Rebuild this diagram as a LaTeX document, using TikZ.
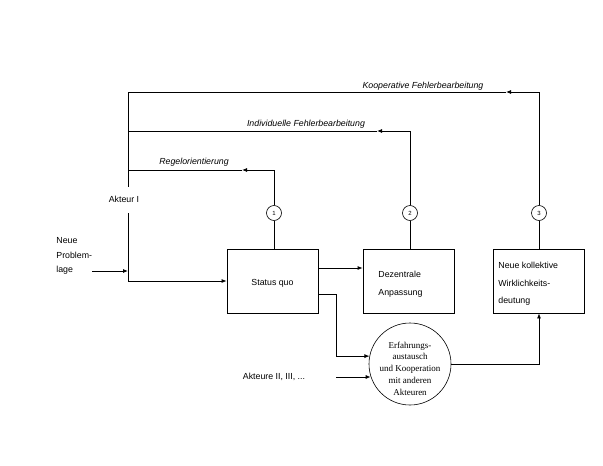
\documentclass[tikz,border=0pt]{standalone}
\usepackage{fontspec}
\setmainfont{Liberation Sans}
\newfontfamily\serifcirc{Liberation Serif}
\usetikzlibrary{arrows.meta,calc}
\begin{document}
\begin{tikzpicture}[x=1pt,y=-1pt,
  line width=0.8pt,
  arr/.style={-{Latex[length=5pt,width=4pt]}},
  box/.style={draw,rectangle,inner sep=0pt,minimum width=91pt,minimum height=64pt},
  numc/.style={draw,circle,line width=0.6pt,inner sep=0pt,minimum size=15pt,font=\fontsize{6}{7}\selectfont},
  lbl/.style={inner sep=0pt,font=\fontsize{8.8}{10}\selectfont},
  ital/.style={inner sep=0pt,font=\fontsize{8.8}{10}\selectfont\itshape}
]
\useasboundingbox (0,0) rectangle (603,466);

% boxes
\node[box] (sq) at (272.5,281) {};
\node[lbl] (sqt) at (272.5,283) {Status quo};
\node[box] (da) at (408.5,281) {};
\node[lbl,anchor=west,align=left,font=\fontsize{8.8}{18}\selectfont] (dat) at (378,284) {Dezentrale\\Anpassung};
\node[box] (nk) at (539,281) {};
\node[lbl,anchor=west,align=left,font=\fontsize{8.8}{17.5}\selectfont] (nkt) at (498,284) {Neue kollektive\\Wirklichkeits-\\deutung};

% exchange circle
\node[draw,circle,line width=0.6pt,minimum size=82pt,inner sep=0pt] (er) at (410,364) {};
\node[inner sep=0pt,align=center,font=\serifcirc\fontsize{9}{11.7}\selectfont] (ert) at (410,368.5) {Erfahrungs-\\austausch\\und Kooperation\\mit anderen\\Akteuren};

% numbered circles
\node[numc] (c1) at (274,213) {1};
\node[numc] (c2) at (410,213) {2};
\node[numc] (c3) at (539,213) {3};

% labels
\node[ital] (lk) at (423,86) {Kooperative Fehlerbearbeitung};
\node[ital] (li) at (306,124) {Individuelle Fehlerbearbeitung};
\node[ital] (lr) at (194,162) {Regelorientierung};
\node[lbl] (ak) at (124,199) {Akteur I};
\node[lbl,anchor=west,align=left,font=\fontsize{8.8}{14.5}\selectfont] (np) at (56,256) {Neue\\Problem-\\lage};
\node[lbl] (ak2) at (274,377) {Akteure II, III, ...};

% coordinates
\coordinate (t3) at (128,92);
\coordinate (t2) at (128,131);
\coordinate (t1) at (128,170);
\coordinate (a3) at (506,92);
\coordinate (a2) at (377,131);
\coordinate (a1) at (242,170);
\coordinate (lgap1) at (128,187);
\coordinate (lgap2) at (128,213);
\coordinate (lbot) at (128,281);
\coordinate (npe) at (92,271);
\coordinate (kx) at (336,0);
\coordinate (a2s) at (336,377);

% feedback loops
\draw (c1.south) -- (c1.south |- sq.north);
\draw (c2.south) -- (c2.south |- da.north);
\draw (c3.south) -- (c3.south |- nk.north);
\draw[arr] (c1.north) |- (a1);
\draw (a1) -- (t1);
\draw[arr] (c2.north) |- (a2);
\draw (a2) -- (t2);
\draw[arr] (c3.north) |- (a3);
\draw (a3) -- (t3);

% left vertical
\draw (t3) -- (lgap1);
\draw (lgap2) -- (lbot);
\draw[arr] (lbot) -- (sq.west);
\draw[arr] (npe) -- (npe -| lbot);

% status quo outputs
\draw[arr] ([yshift=13pt]sq.east) -- ([yshift=13pt]sq.east -| da.west);
\draw[arr] ([yshift=-13pt]sq.east) -| (kx |- er.169) -- (er.169);
\draw[arr] (a2s) -- (a2s -| er.198);
\draw[arr] (er.east) -| (nk.south);
\end{tikzpicture}
\end{document}
